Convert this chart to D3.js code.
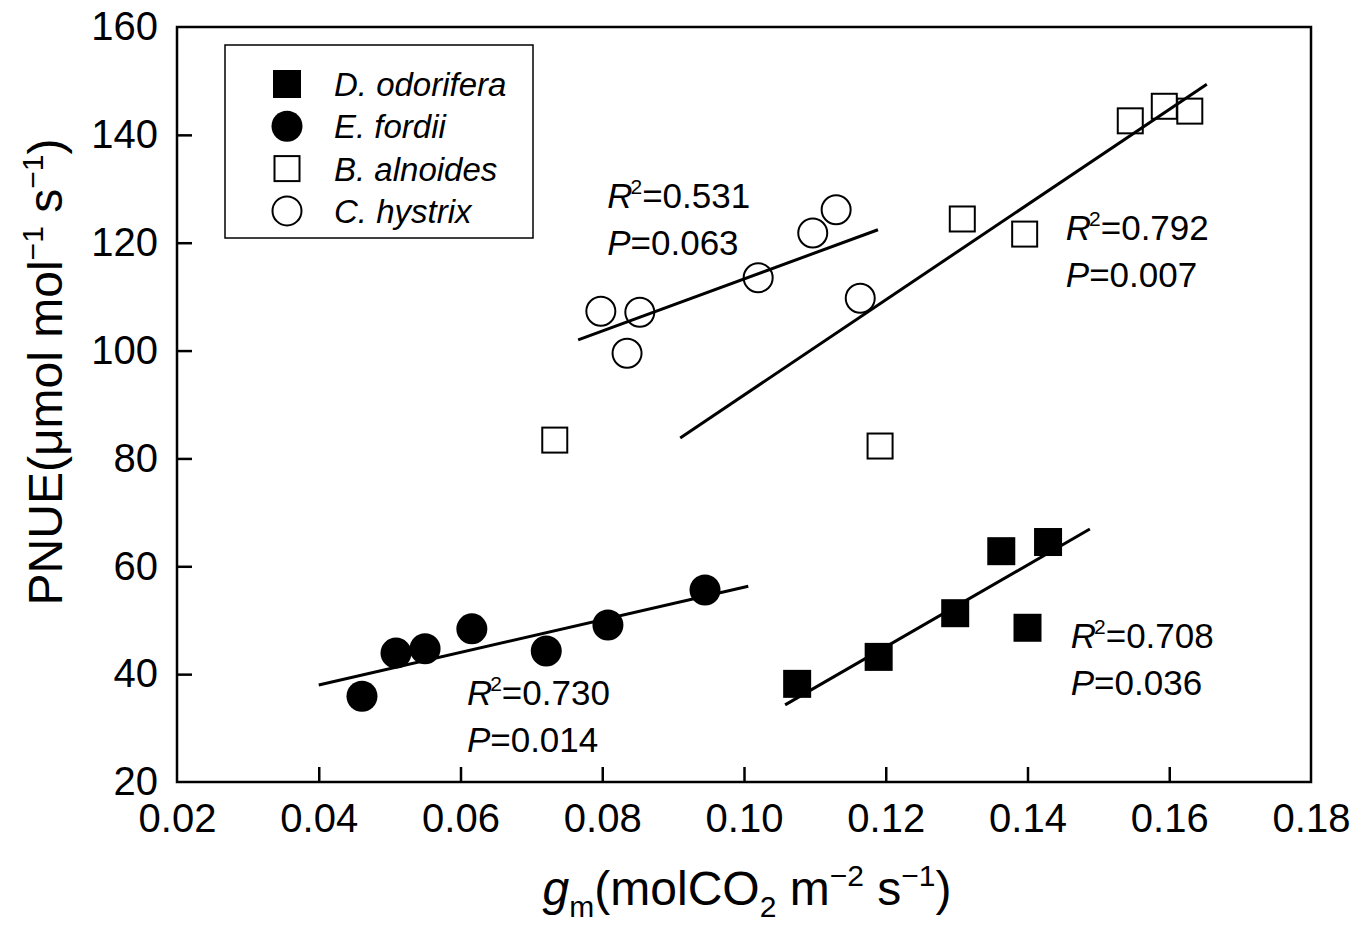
<!DOCTYPE html>
<html>
<head>
<meta charset="utf-8">
<script src="https://cdn.jsdelivr.net/npm/d3@7"></script>
<style>
  body { margin: 0; background: #fff; }
  text { font-family: Arial, "Liberation Sans", sans-serif; fill: #000; }
</style>
</head>
<body>
<div id="graph"></div>
<script>
// values
var species = ["D. odorifera", "E. fordii", "B. alnoides", "C. hystrix"];
var odoriferaX = [0.1075, 0.119, 0.1298, 0.1363, 0.140, 0.1429];
var odoriferaY = [38.2, 43.2, 51.3, 62.8, 48.6, 64.5];
var fordiiX = [0.0461, 0.0509, 0.0550, 0.0616, 0.0721, 0.0808, 0.0945];
var fordiiY = [35.9, 43.9, 44.7, 48.4, 44.3, 49.1, 55.6];
var alnoidesX = [0.0733, 0.1192, 0.1308, 0.1396, 0.1545, 0.1593, 0.1629];
var alnoidesY = [83.4, 82.3, 124.4, 121.6, 142.6, 145.3, 144.4];
var hystrixX = [0.0798, 0.0835, 0.0853, 0.1020, 0.1097, 0.1130, 0.1164];
var hystrixY = [107.3, 99.5, 107.1, 113.5, 121.8, 126.1, 109.7];

// regression line end points [x0, y0, x1, y1]
var fitLines = [
  [0.1058, 34.3, 0.1488, 66.9],
  [0.0400, 38.0, 0.1006, 56.3],
  [0.0910, 83.8, 0.1653, 149.4],
  [0.0766, 102.0, 0.1189, 122.4]
];
var r2Labels = ["0.708", "0.730", "0.792", "0.531"];
var pLabels = ["0.036", "0.014", "0.007", "0.063"];
// where each R2/P label sits (data coords, left end of the first baseline)
var labelX = [0.1461, 0.0609, 0.1454, 0.0807];
var labelY = [44.8, 34.3, 120.5, 126.4];

var xTicks = [0.02, 0.04, 0.06, 0.08, 0.10, 0.12, 0.14, 0.16, 0.18];
var yTicks = [20, 40, 60, 80, 100, 120, 140, 160];

var width = 1369, height = 930;
var plotLeft = 177, plotRight = 1311, plotTop = 27, plotBottom = 782;

var svg = d3.select('#graph').append('svg')
  .attr('width', width).attr('height', height);

var xScale = d3.scaleLinear().domain([0.02, 0.18]).range([plotLeft, plotRight]);
var yScale = d3.scaleLinear().domain([20, 160]).range([plotBottom, plotTop]);

// frame
svg.append('rect')
  .attr('x', plotLeft).attr('y', plotTop)
  .attr('width', plotRight - plotLeft).attr('height', plotBottom - plotTop)
  .attr('fill', 'none').attr('stroke', '#000').attr('stroke-width', 2.5);

// axes with inward ticks
var xAxis = svg.append('g')
  .attr('transform', 'translate(0,' + plotBottom + ')')
  .call(d3.axisBottom(xScale).tickValues(xTicks).tickSize(-15).tickPadding(22)
    .tickFormat(d3.format('.2f')));
var yAxis = svg.append('g')
  .attr('transform', 'translate(' + plotLeft + ',0)')
  .call(d3.axisLeft(yScale).tickValues(yTicks).tickSize(-15).tickPadding(19));
[xAxis, yAxis].forEach(function(a) {
  a.attr('font-size', 40).attr('font-family', 'Arial, "Liberation Sans", sans-serif');
  a.select('.domain').remove();
  a.selectAll('.tick line').attr('stroke', '#000').attr('stroke-width', 2.5);
  a.selectAll('.tick text').attr('fill', '#000');
});
// no inner tick at the ends of the frame
xAxis.selectAll('.tick').filter(function(d) { return d === 0.02 || d === 0.18; }).select('line').remove();
yAxis.selectAll('.tick').filter(function(d) { return d === 20 || d === 160; }).select('line').remove();

// axis titles
var xt = svg.append('text').attr('x', 747).attr('y', 905)
  .attr('text-anchor', 'middle').attr('font-size', 48);
xt.append('tspan').attr('font-style', 'italic').text('g');
xt.append('tspan').attr('font-size', 30).attr('dy', 12).text('m');
xt.append('tspan').attr('dy', -12).text('(molCO');
xt.append('tspan').attr('font-size', 30).attr('dy', 12).text('2');
xt.append('tspan').attr('dy', -12).text(' m');
xt.append('tspan').attr('font-size', 30).attr('dy', -19).text('\u22122');
xt.append('tspan').attr('dy', 19).text(' s');
xt.append('tspan').attr('font-size', 30).attr('dy', -19).text('\u22121');
xt.append('tspan').attr('dy', 19).text(')');

var yt = svg.append('text')
  .attr('transform', 'translate(62,372) rotate(-90)')
  .attr('text-anchor', 'middle').attr('font-size', 48);
yt.append('tspan').text('PNUE(\u03bcmol mol');
yt.append('tspan').attr('font-size', 30).attr('dy', -19).text('\u22121');
yt.append('tspan').attr('dy', 19).text(' s');
yt.append('tspan').attr('font-size', 30).attr('dy', -19).text('\u22121');
yt.append('tspan').attr('dy', 19).text(')');

// regression lines
svg.append('g').selectAll('line').data(fitLines).enter().append('line')
  .attr('x1', function(d) { return xScale(d[0]); })
  .attr('y1', function(d) { return yScale(d[1]); })
  .attr('x2', function(d) { return xScale(d[2]); })
  .attr('y2', function(d) { return yScale(d[3]); })
  .attr('stroke', '#000').attr('stroke-width', 3);

function pts(xs, ys) { return xs.map(function(x, i) { return [x, ys[i]]; }); }

function marker(g, cx, cy, kind, filled) {
  if (kind === 'square') {
    var s = filled ? 28 : 25;
    g.append('rect')
      .attr('x', cx - s / 2).attr('y', cy - s / 2)
      .attr('width', s).attr('height', s)
      .attr('fill', filled ? '#000' : 'none')
      .attr('stroke', '#000').attr('stroke-width', filled ? 0 : 2);
  } else {
    g.append('circle')
      .attr('cx', cx).attr('cy', cy)
      .attr('r', filled ? 15.5 : 14.5)
      .attr('fill', filled ? '#000' : 'none')
      .attr('stroke', '#000').attr('stroke-width', filled ? 0 : 2);
  }
}
function drawMarkers(data, kind, filled) {
  var g = svg.append('g');
  data.forEach(function(d) { marker(g, xScale(d[0]), yScale(d[1]), kind, filled); });
}
drawMarkers(pts(odoriferaX, odoriferaY), 'square', true);
drawMarkers(pts(fordiiX, fordiiY), 'circle', true);
drawMarkers(pts(alnoidesX, alnoidesY), 'square', false);
drawMarkers(pts(hystrixX, hystrixY), 'circle', false);

// R2 / P labels
r2Labels.forEach(function(r, i) {
  var x = xScale(labelX[i]), y = yScale(labelY[i]);
  var t1 = svg.append('text').attr('x', x).attr('y', y).attr('font-size', 35);
  t1.append('tspan').attr('font-style', 'italic').text('R');
  t1.append('tspan').attr('font-size', 21).attr('dy', -14).attr('dx', -2).text('2');
  t1.append('tspan').attr('dy', 14).text('=' + r);
  var t2 = svg.append('text').attr('x', x).attr('y', y + 47).attr('font-size', 35);
  t2.append('tspan').attr('font-style', 'italic').text('P');
  t2.append('tspan').text('=' + pLabels[i]);
});

// legend
var legend = svg.append('g');
legend.append('rect').attr('x', 225).attr('y', 45).attr('width', 308).attr('height', 193)
  .attr('fill', '#fff').attr('stroke', '#000').attr('stroke-width', 1.5);
var kinds = [['square', true], ['circle', true], ['square', false], ['circle', false]];
species.forEach(function(name, i) {
  var cy = 84 + i * 42.3;
  marker(legend, 287, cy, kinds[i][0], kinds[i][1]);
  legend.append('text').attr('x', 334).attr('y', cy + 12).attr('font-size', 33)
    .attr('font-style', 'italic').text(name);
});
</script>
</body>
</html>
